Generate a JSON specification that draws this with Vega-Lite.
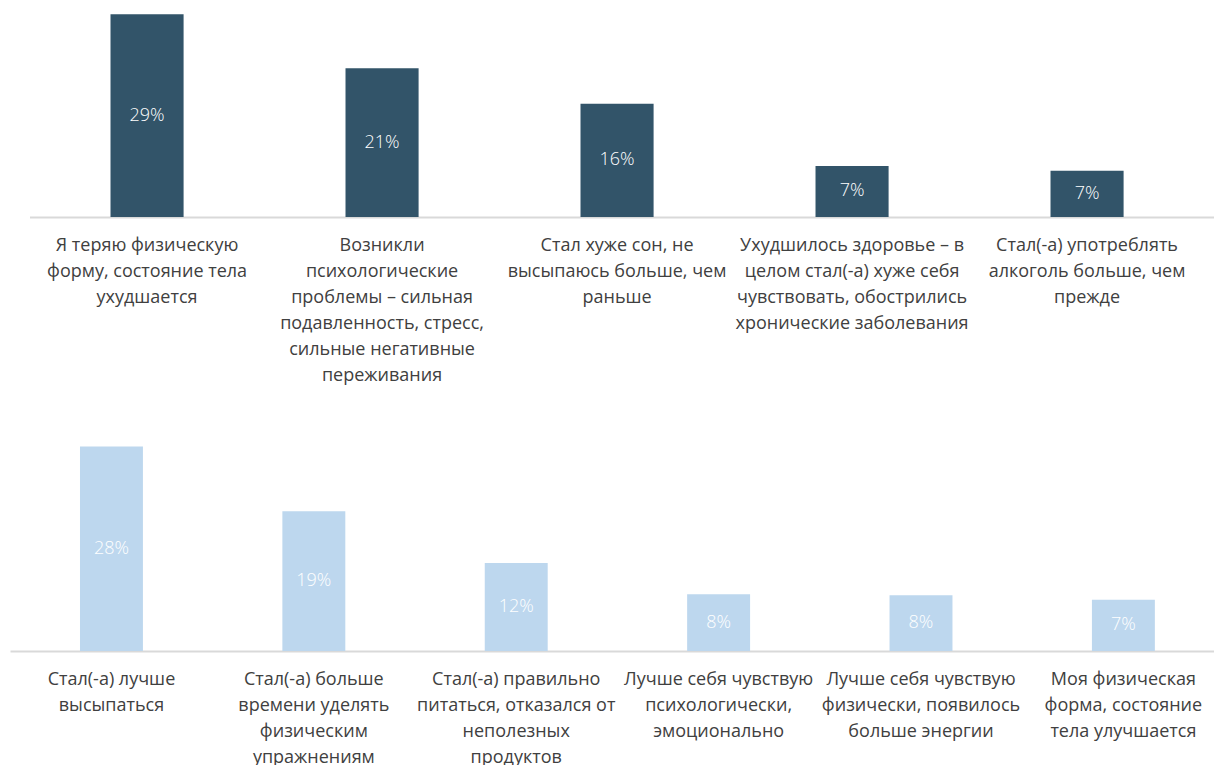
{
  "$schema": "https://vega.github.io/schema/vega-lite/v6.json",
  "padding": {"left": 10, "top": 0, "right": 0, "bottom": 0},
  "background": "white",
  "spacing": 214,
  "bounds": "flush",
  "config": {
    "view": {"stroke": null},
    "axisX": {
      "domainColor": "#D9D9D9",
      "domainWidth": 2,
      "ticks": false,
      "grid": false,
      "title": null,
      "labelAngle": 0,
      "labelColor": "#404040",
      "labelFont": "Open Sans",
      "labelFontSize": 18,
      "labelLineHeight": 26,
      "labelBaseline": "top",
      "labelPadding": 19,
      "labelLimit": 400,
      "labelOverlap": false,
      "labelExpr": "split(datum.value, '\\n')"
    }
  },
  "datasets": {
    "top": [
      {"item": "Я теряю физическую\nформу, состояние тела\nухудшается", "v": 0.2896},
      {"item": "Возникли\nпсихологические\nпроблемы – сильная\nподавленность, стресс,\nсильные негативные\nпереживания", "v": 0.2124},
      {"item": "Стал хуже сон, не\nвысыпаюсь больше, чем\nраньше", "v": 0.1619},
      {"item": "Ухудшилось здоровье – в\nцелом стал(-а) хуже себя\nчувствовать, обострились\nхронические заболевания", "v": 0.0729},
      {"item": "Стал(-а) употреблять\nалкоголь больше, чем\nпрежде", "v": 0.066}
    ],
    "bottom": [
      {"item": "Стал(-а) лучше\nвысыпаться", "v": 0.279},
      {"item": "Стал(-а) больше\nвремени уделять\nфизическим\nупражнениям", "v": 0.1905},
      {"item": "Стал(-а) правильно\nпитаться, отказался от\nнеполезных\nпродуктов", "v": 0.12},
      {"item": "Лучше себя чувствую\nпсихологически,\nэмоционально", "v": 0.0773},
      {"item": "Лучше себя чувствую\nфизически, появилось\nбольше энергии", "v": 0.076},
      {"item": "Моя физическая\nформа, состояние\nтела улучшается", "v": 0.07}
    ]
  },
  "vconcat": [
    {
      "width": 1204,
      "height": 217,
      "data": {"name": "top"},
      "layer": [
        {
          "mark": {"type": "bar", "color": "#325469"},
          "encoding": {
            "x": {"field": "item", "type": "nominal", "sort": null,
                  "scale": {"range": [19.5, 1204], "paddingInner": 0.689, "paddingOuter": 0.3647, "align": 0.4726}},
            "y": {"field": "v", "type": "quantitative", "scale": {"domain": [0, 0.31], "nice": false, "zero": true}, "axis": null}
          }
        },
        {
          "mark": {"type": "text", "color": "#FFFFFF", "font": "Open Sans", "fontSize": 18, "fontWeight": 300, "baseline": "middle"},
          "encoding": {
            "x": {"field": "item", "type": "nominal", "sort": null},
            "y": {"field": "v", "type": "quantitative", "scale": {"domain": [0, 0.62], "nice": false, "zero": true}, "axis": null},
            "text": {"field": "v", "type": "quantitative", "format": ".0%"}
          }
        }
      ],
      "resolve": {"scale": {"y": "independent"}}
    },
    {
      "width": 1204,
      "height": 220,
      "data": {"name": "bottom"},
      "layer": [
        {
          "mark": {"type": "bar", "color": "#BDD7EE"},
          "encoding": {
            "x": {"field": "item", "type": "nominal", "sort": null,
                  "scale": {"paddingInner": 0.689, "paddingOuter": 0.319, "align": 0.542}},
            "y": {"field": "v", "type": "quantitative", "scale": {"domain": [0, 0.30], "nice": false, "zero": true}, "axis": null}
          }
        },
        {
          "mark": {"type": "text", "color": "#FFFFFF", "font": "Open Sans", "fontSize": 18, "fontWeight": 300, "baseline": "middle"},
          "encoding": {
            "x": {"field": "item", "type": "nominal", "sort": null},
            "y": {"field": "v", "type": "quantitative", "scale": {"domain": [0, 0.60], "nice": false, "zero": true}, "axis": null},
            "text": {"field": "v", "type": "quantitative", "format": ".0%"}
          }
        }
      ],
      "resolve": {"scale": {"y": "independent"}}
    }
  ]
}
